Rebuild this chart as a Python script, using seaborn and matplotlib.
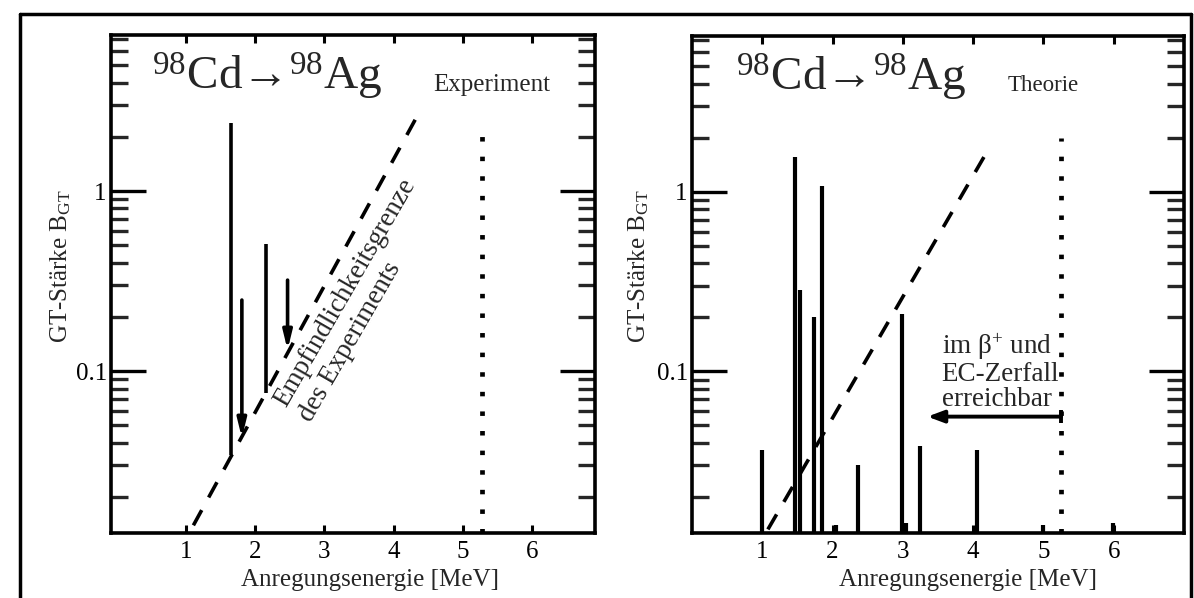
import numpy as np
import pandas as pd
import matplotlib
matplotlib.use("Agg")
import matplotlib.pyplot as plt
import seaborn as sns
from matplotlib.lines import Line2D

# ---------------- data ----------------
exp_x = [1.65, 1.81, 2.16, 2.47]
exp_top = [2.38, 0.248, 0.508, 0.32]
exp_bottom = [0.0341, 0.0425, 0.0752, 0.131]
exp_arrow = [False, True, False, True]

limit_exp_x = [1.11, 4.39]
limit_exp_y = [0.0139, 2.82]

theo_x = [0.99, 1.46, 1.53, 1.73, 1.85, 2.05, 2.36, 2.99, 3.04, 3.25, 4.06, 4.99, 5.99]
theo_b = [0.0364, 1.56, 0.282, 0.20, 1.07, 0.0139, 0.0303, 0.209, 0.0143, 0.0383, 0.0364, 0.0139, 0.0144]

limit_theo_x = [1.08, 4.22]
limit_theo_y = [0.0132, 1.73]

qval_exp = 5.28
qval_exp_top = 2.42
qval_theo = 5.25
qval_theo_top = 2.0

arrow_y = 0.056
arrow_x_start = 5.25
arrow_x_end = 3.35

xticks = [1, 2, 3, 4, 5, 6]
ylim = (0.0126, 7.36)

# ---------------- style ----------------
sns.set_theme(style="white")
plt.rcParams['font.family'] = ['Liberation Serif', 'DejaVu Serif']
plt.rcParams['mathtext.fontset'] = 'custom'
plt.rcParams['mathtext.rm'] = 'Liberation Serif'
plt.rcParams['mathtext.it'] = 'Liberation Serif:italic'
plt.rcParams['mathtext.bf'] = 'Liberation Serif:bold'

fig = plt.figure(figsize=(11.94, 5.98), dpi=100)
W, H = 1194, 598

def px_axes(x0, x1, y0, y1):
    return fig.add_axes([x0 / W, 1 - y1 / H, (x1 - x0) / W, (y1 - y0) / H])

axL = px_axes(111, 595, 35, 533)
axR = px_axes(692, 1184, 36, 533)

# outer frame
for xs, ys in [([20, 20], [598, 14]), ([20, 1191], [14, 14]), ([1191, 1191], [14, 598])]:
    fig.add_artist(Line2D([x / W for x in xs], [1 - y / H for y in ys], color='black',
                          lw=2.5, transform=fig.transFigure))

dash = (0, (4.8, 4.0))
dots = (0, (0.95, 3.2))

def style_axes(ax, xlim, xlab_x, ylab_x):
    ax.set_yscale('log')
    ax.set_xlim(*xlim)
    ax.set_ylim(*ylim)
    ax.set_xticks(xticks)
    ax.set_xticklabels([str(t) for t in xticks], fontsize=18)
    ax.set_yticks([0.1, 1])
    ax.set_yticklabels(['0.1', '1'], fontsize=18)
    ax.yaxis.set_minor_locator(matplotlib.ticker.LogLocator(base=10, subs=np.arange(2, 10)))
    ax.yaxis.set_minor_formatter(matplotlib.ticker.NullFormatter())
    for s in ax.spines.values():
        s.set_linewidth(2.6)
        s.set_color('black')
    ax.tick_params(axis='y', which='major', direction='in', length=25, width=2.4,
                   left=True, right=True, pad=3, colors='black')
    ax.tick_params(axis='y', which='minor', direction='in', length=12, width=2.4,
                   left=True, right=True)
    ax.tick_params(axis='x', which='major', direction='in', length=6, width=2.2,
                   bottom=True, top=True, pad=6, colors='black')
    ax.set_xlabel('Anregungsenergie [MeV]', fontsize=18)
    ax.set_ylabel(r'GT-Stärke B$_{\mathrm{GT}}$', fontsize=18)
    ax.xaxis.set_label_coords(xlab_x, -0.073)
    ax.yaxis.set_label_coords(ylab_x, 0.536)
    ax.grid(False)

# ---------------- left panel: Experiment ----------------
sns.lineplot(x=limit_exp_x, y=limit_exp_y, ax=axL, color='black', lw=2.6,
             linestyle=dash, estimator=None, sort=False)
sns.lineplot(x=[qval_exp, qval_exp], y=[ylim[0], qval_exp_top], ax=axL, color='black',
             lw=3.4, linestyle=dots, estimator=None, sort=False, errorbar=None)
for x, t, b, a in zip(exp_x, exp_top, exp_bottom, exp_arrow):
    if a:
        axL.annotate('', xy=(x, b), xytext=(x, t),
                     arrowprops=dict(arrowstyle='-|>,head_length=0.9,head_width=0.22',
                                     color='black', lw=2.6, shrinkA=0, shrinkB=0))
    else:
        axL.vlines(x, b, t, color='black', lw=2.6)
style_axes(axL, (-0.08, 6.91), 0.535, -0.078)

axL.text(0.085, 0.89, r'$^{98}$Cd→$^{98}$Ag', transform=axL.transAxes,
         fontsize=34, ha='left', va='baseline')
axL.text(0.665, 0.887, 'Experiment', transform=axL.transAxes, fontsize=18,
         ha='left', va='baseline')
axL.text(2.45, 0.0625, 'Empfindlichkeitsgrenze', fontsize=19.5,
         rotation=60, rotation_mode='anchor', ha='left', va='baseline')
axL.text(2.80, 0.0515, 'des Experiments', fontsize=19.5,
         rotation=60, rotation_mode='anchor', ha='left', va='baseline')

# ---------------- right panel: Theorie ----------------
sns.lineplot(x=limit_theo_x, y=limit_theo_y, ax=axR, color='black', lw=2.6,
             linestyle=dash, estimator=None, sort=False)
sns.lineplot(x=[qval_theo, qval_theo], y=[ylim[0], qval_theo_top], ax=axR, color='black',
             lw=3.4, linestyle=dots, estimator=None, sort=False, errorbar=None)
axR.vlines(theo_x, ylim[0], theo_b, color='black', lw=3.0)
style_axes(axR, (0.0, 7.0), 0.561, -0.084)

axR.text(0.09, 0.89, r'$^{98}$Cd→$^{98}$Ag', transform=axR.transAxes,
         fontsize=34, ha='left', va='baseline')
axR.text(0.642, 0.89, 'Theorie', transform=axR.transAxes, fontsize=16.5,
         ha='left', va='baseline')
axR.text(3.55, 0.10, 'im β$^{+}$ und\nEC-Zerfall\nerreichbar', fontsize=19.5,
         ha='left', va='center', linespacing=1.0)
axR.annotate('', xy=(arrow_x_end, arrow_y), xytext=(arrow_x_start, arrow_y),
             arrowprops=dict(arrowstyle='-|>,head_length=0.8,head_width=0.3',
                             color='black', lw=2.8, shrinkA=0, shrinkB=0))
axR.vlines(arrow_x_start, arrow_y * 0.92, arrow_y * 1.09, color='black', lw=2.8)

fig.savefig('out.png', dpi=100)
